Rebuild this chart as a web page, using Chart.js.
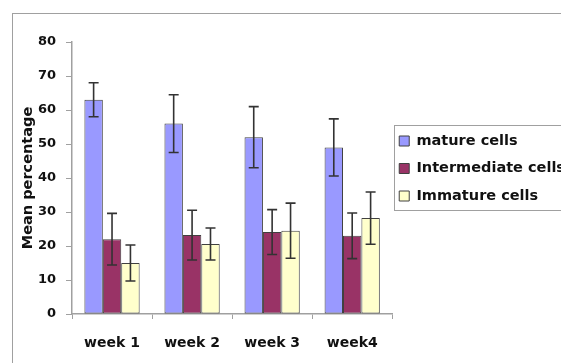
<!DOCTYPE html>
<html>
<head>
<meta charset="utf-8">
<script src="https://cdn.jsdelivr.net/npm/chart.js@4/dist/chart.umd.min.js"></script>
<style>
  html, body { margin: 0; padding: 0; background: #fff; overflow: hidden; }
  #wrap { position: relative; width: 561px; height: 363px; overflow: hidden; }
  #frame { position: absolute; left: 12px; top: 13px; width: 700px; height: 500px; border: 1px solid #a0a0a0; }
  #box { position: absolute; left: 0; top: 0; width: 640px; height: 363px; }
</style>
</head>
<body>
<div id="wrap">
  <div id="frame"></div>
  <div id="box"><canvas id="chart"></canvas></div>
</div>
<script>
const weeks = ["week 1", "week 2", "week 3", "week4"];
const mature = [63, 56, 52, 49];
const matureErr = [5, 8.5, 9, 8.4];
const intermediate = [22, 23.2, 24.1, 23];
const intermediateErr = [7.6, 7.3, 6.6, 6.7];
const immature = [15, 20.6, 24.5, 28.2];
const immatureErr = [5.3, 4.7, 8.1, 7.7];
const yTicks = [0, 10, 20, 30, 40, 50, 60, 70, 80];

const axisGray = "#a0a0a0";
const fam = "'DejaVu Sans', Verdana, sans-serif";
const tickFont = { family: fam, weight: "bold", size: 13 };
const labelFont = { family: fam, weight: "bold", size: 14 };
const legendFont = { family: fam, weight: "bold", size: 14.5 };

function makeSet(label, data, errs, color) {
  return {
    label,
    data,
    errs,
    backgroundColor: color,
    borderColor: "#404040",
    borderWidth: 1,
    borderSkipped: false,
    barPercentage: 1.0,
    categoryPercentage: 0.69
  };
}

// whiskers, placed through the y scale
const errorBars = {
  id: "errorBars",
  afterDatasetsDraw(chart) {
    const ctx = chart.ctx;
    const y = chart.scales.y;
    ctx.save();
    ctx.strokeStyle = "#333333";
    ctx.lineWidth = 1.6;
    chart.data.datasets.forEach((ds, i) => {
      const meta = chart.getDatasetMeta(i);
      meta.data.forEach((bar, j) => {
        const v = ds.data[j], e = ds.errs[j];
        const top = y.getPixelForValue(v + e);
        const bot = y.getPixelForValue(v - e);
        ctx.beginPath();
        ctx.moveTo(bar.x, top); ctx.lineTo(bar.x, bot);
        ctx.moveTo(bar.x - 5, top); ctx.lineTo(bar.x + 5, top);
        ctx.moveTo(bar.x - 5, bot); ctx.lineTo(bar.x + 5, bot);
        ctx.stroke();
      });
    });
    ctx.restore();
  }
};

// nudge the legend up and left a bit, then frame its items
const legendBox = {
  id: "legendBox",
  afterLayout(chart) {
    const lg = chart.legend;
    lg.left -= 6; lg.right -= 6;
    lg.top -= 34; lg.bottom -= 34;
  },
  afterDraw(chart) {
    const boxes = chart.legend.legendHitBoxes;
    if (!boxes || !boxes.length) return;
    const left = Math.min(...boxes.map(b => b.left)) - 5;
    const top = Math.min(...boxes.map(b => b.top)) - 9;
    const last = boxes[boxes.length - 1];
    const bottom = last.top + last.height + 6;
    const ctx = chart.ctx;
    ctx.save();
    ctx.strokeStyle = axisGray;
    ctx.lineWidth = 1;
    ctx.strokeRect(Math.round(left) + 0.5, Math.round(top) + 0.5, 400, Math.round(bottom - top));
    ctx.restore();
  }
};

new Chart(document.getElementById("chart"), {
  type: "bar",
  data: {
    labels: weeks,
    datasets: [
      makeSet("mature cells", mature, matureErr, "#9999ff"),
      makeSet("Intermediate cells", intermediate, intermediateErr, "#993366"),
      makeSet("Immature cells", immature, immatureErr, "#ffffcc")
    ]
  },
  options: {
    responsive: true,
    maintainAspectRatio: false,
    animation: false,
    layout: { padding: { left: 20, top: 42, right: 59, bottom: 0 } },
    plugins: {
      legend: {
        position: "right",
        maxWidth: 300,
        labels: {
          color: "#111",
          font: legendFont,
          boxWidth: 10,
          boxHeight: 10,
          padding: 13
        }
      },
      tooltip: { enabled: false }
    },
    scales: {
      x: {
        grid: { display: true, drawOnChartArea: false, drawTicks: true, tickLength: 5, color: axisGray, offset: true },
        border: { color: axisGray, width: 1.5 },
        ticks: { color: "#111", font: labelFont, padding: 16 },
        afterFit(s) { s.height = 49; }
      },
      y: {
        min: 0,
        max: 80,
        afterBuildTicks(s) { s.ticks = yTicks.map(v => ({ value: v })); },
        grid: { display: true, drawOnChartArea: false, drawTicks: true, tickLength: 6, color: axisGray },
        border: { color: axisGray, width: 1.5 },
        ticks: { color: "#111", font: tickFont, padding: 10 },
        title: { display: true, text: "Mean percentage", color: "#111", font: legendFont, padding: 0 },
        afterFit(s) { s.width = 52; }
      }
    }
  },
  plugins: [errorBars, legendBox]
});
</script>
</body>
</html>
